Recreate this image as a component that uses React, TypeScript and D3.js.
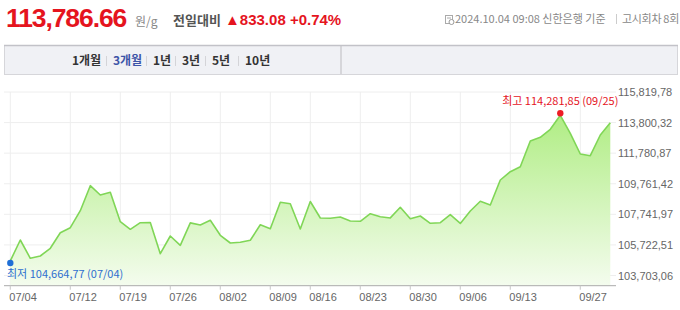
import React from "react";
import * as d3 from "d3";

const dates = [
  "07/04","07/05","07/08","07/09","07/10","07/11","07/12","07/15","07/16","07/17","07/18","07/19",
  "07/22","07/23","07/24","07/25","07/26","07/29","07/30","07/31",
  "08/01","08/02","08/05","08/06","08/07","08/08","08/09","08/12","08/13","08/14","08/16",
  "08/19","08/20","08/21","08/22","08/23","08/26","08/27","08/28","08/29","08/30",
  "09/02","09/03","09/04","09/05","09/06","09/09","09/10","09/11","09/12","09/13",
  "09/19","09/20","09/23","09/24","09/25","09/26","09/27","09/30","10/02","10/04"
];

const prices = [
  104664.77, 106047, 104839, 104991, 105499, 106529, 106859, 107982, 109633, 109019, 109197, 107256,
  106754, 107190, 107205, 105143, 106311, 105697, 107180, 107038,
  107348, 106358, 105849, 105895, 106027, 107057, 106793, 108537, 108444, 106774, 108589,
  107500, 107480, 107566, 107302, 107282, 107784, 107586, 107505, 108206, 107454,
  107632, 107150, 107190, 107718, 107140, 107962, 108603, 108358, 110009, 110557,
  110887, 112584, 112828, 113357, 114281.85, 113092, 111726, 111613, 112980, 113786.66
];

const yTicks = [103703.06, 105722.51, 107741.97, 109761.42, 111780.87, 113800.32, 115819.78];
const xTickLabels = ["07/04","07/12","07/19","07/26","08/02","08/09","08/16","08/23","08/30","09/06","09/13","09/27"];
const periodTabs = ["1개월", "3개월", "1년", "3년", "5년", "10년"];
const tabX = [72, 113, 153, 182, 212, 245];

const W = 680, H = 310;
const plotLeft = 4, plotRight = 616, plotTop = 92, axisY = 285.7;

const fmt = (v: number) => d3.format(",.2f")(v).replace(/\.(\d\d)$/, ",$1");
const KR = "'Noto Sans CJK KR', 'Liberation Sans', sans-serif";
const LAT = "'Liberation Sans', 'Noto Sans CJK KR', sans-serif";

export default function App() {
  const x = d3.scalePoint<string>().domain(dates).range([10.3, 610.3]);
  const y = d3.scaleLinear().domain([103703.06, 115819.78]).range([275.5, 92]);
  const pts = dates.map((d, i) => [x(d) as number, y(prices[i])] as [number, number]);
  const line = d3.line<[number, number]>().x(p => p[0]).y(p => p[1])(pts) || "";
  const area = d3.area<[number, number]>().x(p => p[0]).y0(axisY).y1(p => p[1])(pts) || "";
  const iMin = d3.minIndex(prices);
  const iMax = d3.maxIndex(prices);
  const last = prices[prices.length - 1];
  const prev = 833.08;

  return (
    <div style={{ position: "absolute", left: 0, top: 0 }}>
      <svg width={W} height={H} style={{ display: "block", background: "#fff" }}>
        <defs>
          <linearGradient id="g" x1="0" y1={y(prices[iMax])} x2="0" y2={axisY} gradientUnits="userSpaceOnUse">
            <stop offset="0" stopColor="#b0ed84" />
            <stop offset="1" stopColor="#f4fcee" />
          </linearGradient>
        </defs>
        {/* header */}
        <text x={6} y={27} fontFamily={LAT} fontWeight="bold" fontSize={26.5} fill="#e5141e" letterSpacing={-1.1}>
          {d3.format(",.2f")(last)}
        </text>
        <text x={135} y={26} fontFamily={KR} fontSize={12} fill="#888">원/g</text>
        <text x={173} y={25} fontFamily={KR} fontSize={13} fontWeight="bold" fill="#555">전일대비</text>
        <text x={225} y={25} fontFamily={LAT} fontSize={15} fontWeight="bold" fill="#e5141e">
          {"▲" + d3.format(".2f")(prev) + "  +0.74%"}
        </text>
        <g>
          <rect x={445.5} y={15.5} width={7} height={8} fill="none" stroke="#aaa" />
          <line x1={447} y1={18} x2={451} y2={18} stroke="#aaa" />
          <circle cx={451.5} cy={22} r={2.5} fill="#fff" stroke="#999" />
        </g>
        <text x={455} y={23} fontFamily={KR} fontSize={11} fill="#888">2024.10.04 09:08 신한은행 기준</text>
        <line x1={616.5} y1={14} x2={616.5} y2={24} stroke="#ccc" />
        <text x={679} y={23} textAnchor="end" fontFamily={KR} fontSize={11} letterSpacing={-0.3} fill="#888">고시회차 8회</text>

        {/* tabs */}
        <rect x={4.5} y={45.5} width={336} height={29} fill="#f0f1f5" stroke="#d6d6da" />
        <rect x={341.5} y={45.5} width={336} height={29} fill="#f0f1f5" stroke="#d6d6da" />
        <line x1={4} y1={45.5} x2={678} y2={45.5} stroke="#c2c2c8" strokeWidth={1.5} />
        {periodTabs.map((t, i) => (
          <g key={t}>
            <text x={tabX[i]} y={65} fontFamily={KR} fontSize={12} fontWeight="bold" fill={i === 1 ? "#3d55a8" : "#333"}>{t}</text>
            {i > 0 && <line x1={tabX[i] - 6.5} y1={56} x2={tabX[i] - 6.5} y2={66} stroke="#d4d4d8" />}
          </g>
        ))}

        {/* grid */}
        {yTicks.map(t => (
          <line key={t} x1={plotLeft} x2={plotRight} y1={y(t)} y2={y(t)} stroke="#eeeeee" />
        ))}
        {xTickLabels.map(d => (
          <line key={d} x1={x(d)} x2={x(d)} y1={plotTop} y2={axisY + 4} stroke="#eeeeee" />
        ))}

        {/* area & line */}
        <path d={area} fill="url(#g)" />
        <path d={line} fill="none" stroke="#80d657" strokeWidth={1.6} strokeLinejoin="round" />

        {/* axis */}
        <line x1={plotLeft} x2={plotRight} y1={axisY} y2={axisY} stroke="#aaa" />
        {xTickLabels.map(d => (
          <g key={"t" + d}>
            <line x1={x(d)} x2={x(d)} y1={axisY} y2={axisY + 4} stroke="#ccc" />
            <text x={(x(d) as number) - 1} y={301} fontFamily={LAT} fontSize={11} fill="#666">{d}</text>
          </g>
        ))}
        {yTicks.map(t => (
          <text key={"l" + t} x={618} y={y(t) + 4} fontFamily={LAT} fontSize={11} fill="#666">{fmt(t)}</text>
        ))}

        {/* min/max */}
        <circle cx={pts[iMin][0]} cy={pts[iMin][1] + 2} r={3.2} fill="#1f6fd6" />
        <text x={7} y={278} fontFamily={KR} fontSize={11} fill="#2f6fcf">
          {"최저 " + fmt(prices[iMin]) + " (" + dates[iMin] + ")"}
        </text>
        <circle cx={pts[iMax][0]} cy={pts[iMax][1] - 2} r={3.2} fill="#ee1c25" />
        <text x={pts[iMax][0]} y={105} textAnchor="middle" fontFamily={KR} fontSize={11} fill="#e5141e">
          {"최고 " + fmt(prices[iMax]) + " (" + dates[iMax] + ")"}
        </text>
      </svg>
    </div>
  );
}
